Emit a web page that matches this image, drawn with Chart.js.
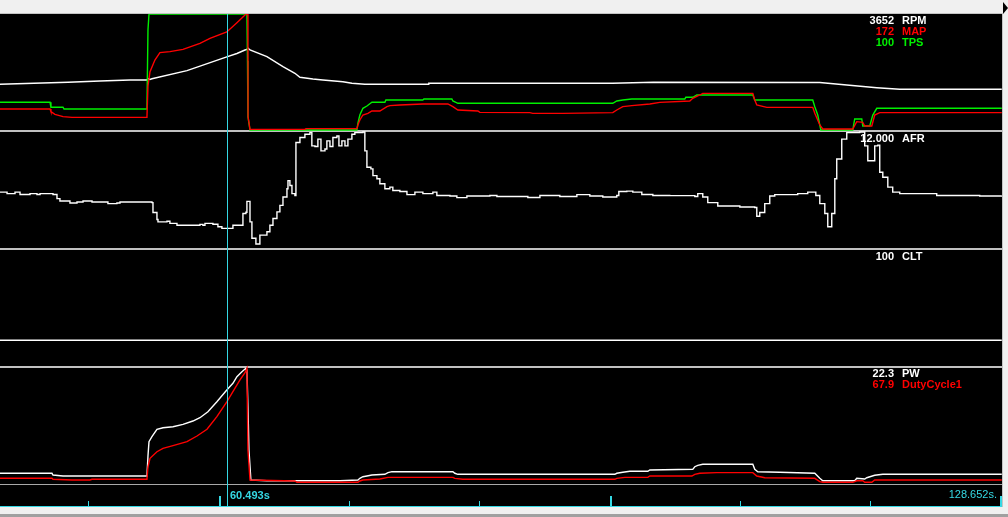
<!DOCTYPE html>
<html>
<head>
<meta charset="utf-8">
<title>Datalog view</title>
<script src="https://cdn.jsdelivr.net/npm/chart.js@4.4.1/dist/chart.umd.min.js"></script>
<style>
	html, body { margin: 0; padding: 0; background: #f0f0f0; overflow: hidden; }
	canvas { display: block; }
</style>
</head>
<body>
<canvas id="log-chart" width="1008" height="517"></canvas>
<script>
// time window (seconds) and cursor
const viewStart = 40.55;
const viewEnd = 128.65;
const cursorTime = 60.493;
const cursorLabel = '60.493s';
const endLabel = '128.652s.';
const timeTicks = [ 48.31, 71.26, 82.69, 105.64, 117.07 ];
const majorTimeTicks = [ 59.89, 94.24, 128.6 ];

// channel readout at the cursor
const channelNames = [ 'RPM', 'MAP', 'TPS', 'AFR', 'CLT', 'PW', 'DutyCycle1' ];
const cursorReadout = [ '3652', '172', '100', '12.000', '100', '22.3', '67.9' ];

// channel ranges used for the graph panels
const rpmRange = [ 0, 5800 ];
const mapRange = [ 25, 199 ];
const tpsRange = [ 0, 100 ];
const afrRange = [ 11, 16.85 ];
const cltRange = [ 80, 170 ];
const pwRange = [ 0, 27.5 ];
const dutyRange = [ 0, 96 ];

// logged samples: [ time s, value ]
const rpm = [
	[40.55,2290],[46.53,2385],[49.34,2450],[51.98,2500],[53.47,2500],[53.56,2570],[53.74,2530],
	[53.91,2560],[56.99,2965],[60.49,3652],[61.38,3825],[62.09,4000],[62.26,4035],[62.35,4100],
	[62.53,4000],[64.02,3665],[65.43,3165],[66.48,2835],[66.92,2635],[68.06,2550],[68.94,2500],
	[70.70,2415],[71.49,2335],[72.63,2285],[78.20,2285],[78.25,2335],[94.40,2340],[98.00,2385],
	[112.63,2375],[115.00,2250],[117.64,2115],[119.66,2035],[128.63,2035]
];
const map = [
	[40.55,56.5],[44.95,56.5],[45.03,52.5],[45.38,48.5],[46.09,45],[46.88,44],[53.47,44],
	[53.56,91],[53.74,112.5],[54.17,130],[54.61,141],[55.49,142.5],[56.64,146],[58.13,155],
	[59.01,162.5],[60.49,172],[61.38,186],[62.09,197.5],[62.26,199],[62.35,199],[62.36,45],
	[62.53,26],[67.36,26],[67.45,27],[71.93,27],[72.02,32.5],[72.19,40],[72.46,47.5],[72.90,50],
	[73.25,53.5],[73.95,53.5],[74.57,60],[74.83,61.5],[75.71,62.5],[77.73,64],[79.93,64],
	[80.37,60],[80.81,55],[82.57,53.5],[82.74,51.5],[87.14,51],[87.40,50],[90.04,50],[94.43,51],
	[94.78,55],[95.31,60],[96.10,61.5],[97.69,64],[98.56,66.5],[101.20,68.5],[101.46,72.5],
	[102.08,77.5],[102.34,80],[106.74,80],[106.91,70],[107.09,62.5],[107.97,59],[112.01,59],
	[112.19,50],[112.63,32.5],[112.89,26.5],[115.53,26.5],[115.88,37.5],[116.41,36.5],[116.58,31],
	[117.20,31],[117.46,47.5],[117.90,51],[128.63,51]
];
const tps = [
	[40.55,23.9],[44.95,23.9],[45.03,19.6],[46.09,19.6],[46.18,18.1],[53.47,18.1],[53.56,86.2],
	[53.65,100],[62.26,100],[62.31,59.5],[62.35,11.5],[62.53,0],[71.93,0],[72.02,6],[72.19,12.9],
	[72.46,18.7],[72.81,20.7],[73.25,23.9],[74.39,23.9],[74.48,25.9],[77.73,25.9],[77.82,26.7],
	[80.28,26.7],[80.37,25],[80.81,23],[94.43,23],[94.78,25],[95.31,25.9],[96.10,26.7],
	[100.76,26.7],[100.85,28.2],[101.46,28.2],[101.82,30.2],[106.74,30.2],[106.91,25.9],
	[112.01,25.9],[112.19,20.1],[112.45,12.9],[112.72,0],[115.53,0],[115.70,9.5],[116.32,9.5],
	[116.41,3.4],[117.02,3.4],[117.29,12.9],[117.64,18.7],[128.63,18.7]
];
const afr = [
	[40.55,13.82],[41.17,13.74],[41.87,13.82],[42.31,13.70],[43.19,13.74],[43.80,13.70],[44.07,13.74],
	[45.21,13.70],[45.56,13.49],[45.82,13.37],[46.70,13.27],[47.32,13.32],[47.85,13.37],[48.64,13.32],
	[49.34,13.32],[50.04,13.24],[50.83,13.27],[51.10,13.32],[53.91,13.29],[54.00,12.79],[54.35,12.44],
	[54.44,12.32],[55.23,12.35],[55.49,12.24],[56.11,12.15],[58.13,12.19],[58.39,12.15],[58.57,12.24],
	[59.27,12.20],[59.71,12.07],[60.06,11.99],[60.77,11.99],[61.03,12.15],[61.91,12.74],[62.17,12.80],
	[62.26,13.35],[62.44,13.35],[62.53,12.32],[62.70,11.49],[63.05,11.20],[63.23,11.20],[63.40,11.65],
	[64.02,11.82],[64.28,12.15],[64.55,12.49],[64.90,12.82],[65.16,13.15],[65.43,13.57],[65.78,13.99],
	[65.87,14.40],[66.04,14.15],[66.22,13.74],[66.48,13.65],[66.57,16.32],[66.92,16.57],[67.36,16.74],
	[67.80,16.82],[67.97,16.15],[68.24,16.12],[68.50,16.49],[68.77,15.90],[69.12,15.99],[69.29,16.40],
	[69.56,16.12],[69.82,16.57],[70.17,16.65],[70.35,16.15],[70.61,16.40],[70.88,16.15],[71.14,16.49],
	[71.49,16.74],[71.75,16.82],[72.46,16.85],[72.63,15.90],[72.81,15.07],[73.16,14.99],[73.34,14.65],
	[73.69,14.49],[73.95,14.24],[74.39,13.99],[74.83,14.07],[75.09,13.90],[75.71,13.85],[76.33,13.69],
	[77.03,13.82],[77.73,13.74],[78.61,13.82],[78.96,13.65],[80.11,13.62],[80.72,13.54],[81.60,13.62],
	[83.62,13.65],[84.24,13.60],[85.99,13.60],[86.96,13.55],[88.02,13.65],[89.77,13.60],[91.27,13.69],
	[92.41,13.62],[93.55,13.57],[94.78,13.65],[94.96,13.85],[95.66,13.87],[96.19,13.82],[96.98,13.70],
	[97.95,13.65],[99.44,13.64],[101.64,13.60],[101.90,13.74],[102.34,13.57],[102.78,13.29],
	[103.66,13.12],[105.60,13.07],[106.91,13.04],[107.09,12.60],[107.35,12.79],[107.79,13.24],
	[108.23,13.62],[108.67,13.69],[110.69,13.74],[111.57,13.82],[112.01,13.82],[112.28,13.65],
	[112.63,13.24],[113.07,12.74],[113.33,12.07],[113.59,12.07],[113.68,12.74],[113.95,14.49],
	[114.12,15.49],[114.56,16.49],[115.00,16.82],[116.14,16.85],[116.58,16.15],[116.85,15.40],
	[117.20,15.40],[117.46,16.15],[117.73,16.19],[117.90,14.82],[118.17,14.57],[118.61,14.07],
	[119.04,13.82],[119.66,13.74],[121.42,13.74],[122.91,13.65],[126.69,13.62],[128.63,13.64]
];
const clt = [ [40.55,100],[128.63,100] ];
const pw = [
	[40.55,2.54],[45.12,2.54],[45.21,2.13],[46.09,1.90],[53.47,1.90],[53.56,6.64],[53.65,10.02],
	[53.91,11.21],[54.35,12.96],[54.88,13.34],[55.76,13.58],[56.64,14.15],[57.51,14.93],[58.13,15.71],
	[58.83,17.14],[59.62,19.51],[60.49,22.3],[61.03,23.87],[61.38,25.43],[61.82,26.62],[62.17,27.42],
	[62.26,27.0],[62.35,18.32],[62.44,8.06],[62.61,0.95],[64.02,0.78],[70.44,0.78],[72.02,0.95],
	[72.19,1.35],[72.46,1.73],[72.81,1.90],[73.25,2.13],[74.39,2.30],[74.66,2.68],[75.01,2.92],
	[80.37,2.92],[80.54,2.54],[80.81,2.30],[94.61,2.30],[94.78,2.54],[95.31,2.77],[95.93,3.01],
	[97.51,3.01],[97.69,3.32],[101.46,3.48],[101.64,4.10],[101.90,4.43],[102.34,4.67],[106.74,4.67],
	[106.91,3.48],[107.18,2.92],[109.11,2.77],[112.19,2.54],[112.63,1.35],[112.89,0.78],[115.70,0.78],
	[115.88,1.35],[116.58,1.19],[116.76,1.49],[117.46,2.06],[118.17,2.30],[128.63,2.30]
];
const dutyCycle = [
	[40.55,4.7],[45.12,4.7],[45.21,3.9],[46.88,3.3],[48.46,3.3],[48.64,3.9],[53.47,3.9],[53.56,14.3],
	[53.74,21.3],[54.35,26.7],[54.88,29.5],[55.76,31.7],[56.99,35.0],[57.87,39.7],[58.75,45.3],
	[59.62,55.7],[60.49,67.9],[61.03,76.4],[61.65,86.1],[62.09,92.1],[62.26,95.8],[62.35,28.1],
	[62.53,3.3],[66.48,2.5],[66.66,1.4],[72.02,1.4],[72.19,2.5],[72.46,3.3],[73.95,4.1],[74.66,5.5],
	[80.37,5.5],[80.54,4.7],[81.25,3.9],[94.61,3.9],[94.78,4.7],[95.49,5.5],[97.51,5.5],[97.69,6.6],
	[101.38,6.6],[101.64,8.0],[102.08,8.9],[103.57,9.4],[106.74,9.4],[107.09,6.6],[107.79,5.2],
	[112.19,4.7],[112.63,1.9],[112.89,1.4],[115.53,1.4],[115.88,2.7],[116.41,2.7],[116.58,1.4],
	[117.20,1.4],[117.46,3.3],[128.63,3.3]
];

( function() { 'use strict';

	const AREA_TOP = 14;
	const AREA_BOTTOM = 484;
	const CYAN = '#35d8e4';
	const GREEN = '#00f000';
	const RED = '#ff0000';
	const WHITE = '#ffffff';

	let LogViewer = {

		/**
		 * Build the chart
		 */
		init: function() {
			const ctx = document.getElementById( 'log-chart' );

			new Chart( ctx, {
				type: 'line',
				data: { datasets: this.buildDatasets() },
				options: {
					responsive: false,
					devicePixelRatio: 1,
					animation: false,
					events: [],
					layout: { padding: { top: AREA_TOP, bottom: 517 - AREA_BOTTOM, left: 0, right: 6 } },
					scales: {
						x: { type: 'linear', display: false, min: viewStart, max: viewEnd },
						yRpm: this.bandScale( [ 14, 130 ], rpmRange ),
						yMap: this.bandScale( [ 14, 130 ], mapRange ),
						yTps: this.bandScale( [ 14, 130 ], tpsRange ),
						yAfr: this.bandScale( [ 132, 248 ], afrRange ),
						yClt: this.bandScale( [ 250, 366 ], cltRange ),
						yPw: this.bandScale( [ 368, 484 ], pwRange ),
						yDuty: this.bandScale( [ 368, 484 ], dutyRange )
					},
					plugins: {
						legend: { display: false },
						tooltip: { enabled: false }
					}
				},
				plugins: [ this.framePlugin() ]
			} );
		},

		/**
		 * A hidden y axis whose range lands inside one graph panel
		 */
		bandScale: function( band, range ) {
			const perPixel = ( range[1] - range[0] ) / ( band[1] - band[0] );
			return {
				type: 'linear',
				display: false,
				min: range[0] - ( AREA_BOTTOM - band[1] ) * perPixel,
				max: range[1] + ( band[0] - AREA_TOP ) * perPixel
			};
		},

		/**
		 * One trace per channel, first one is drawn on top
		 */
		buildDatasets: function() {
			const trace = function( label, data, axis, color, stepped ) {
				return {
					label: label,
					data: data,
					yAxisID: axis,
					borderColor: color,
					borderWidth: 1.4,
					pointRadius: 0,
					tension: 0,
					stepped: stepped || false,
					fill: false
				};
			};
			return [
				trace( 'MAP', map, 'yMap', RED ),
				trace( 'TPS', tps, 'yTps', GREEN ),
				trace( 'RPM', rpm, 'yRpm', WHITE ),
				trace( 'AFR', afr, 'yAfr', WHITE, 'before' ),
				trace( 'CLT', clt, 'yClt', WHITE ),
				trace( 'DutyCycle1', dutyCycle, 'yDuty', RED ),
				trace( 'PW', pw, 'yPw', WHITE )
			];
		},

		/**
		 * Background, panel dividers, cursor, time ruler and readouts
		 */
		framePlugin: function() {
			return {
				id: 'logFrame',
				beforeDraw: function( chart ) {
					const c = chart.ctx;
					const area = chart.chartArea;
					c.save();
					c.fillStyle = '#f0f0f0';
					c.fillRect( 0, 0, chart.width, chart.height );
					c.fillStyle = '#c4c4c4';
					c.fillRect( 0, 13, area.right + 1, 1 );
					c.fillRect( area.right, 13, 1, 494 );
					c.fillStyle = '#000000';
					c.fillRect( 0, 14, area.right, 492 );
					c.fillStyle = '#c0c0c0';
					c.fillRect( 0, 130, area.right, 2 );
					c.fillRect( 0, 248, area.right, 2 );
					c.fillRect( 0, 366, area.right, 2 );
					c.fillStyle = '#a8a8a8';
					c.fillRect( 0, 484, area.right, 1 );
					c.fillStyle = '#a0a0a0';
					c.fillRect( 0, 514, chart.width, 3 );
					// scroll arrow in the top right corner
					c.fillStyle = '#000000';
					c.beginPath();
					c.moveTo( area.right + 1, 2 );
					c.lineTo( chart.width, 8 );
					c.lineTo( area.right + 1, 14 );
					c.closePath();
					c.fill();
					c.restore();
				},
				afterDraw: function( chart ) {
					const c = chart.ctx;
					const area = chart.chartArea;
					const xScale = chart.scales.x;
					const cursorX = Math.round( xScale.getPixelForValue( cursorTime ) );
					c.save();

					// time ruler
					c.fillStyle = CYAN;
					c.fillRect( 0, 506, area.right, 1 );
					timeTicks.forEach( function( t ) {
						c.fillRect( Math.round( xScale.getPixelForValue( t ) ), 501, 1, 5 );
					} );
					majorTimeTicks.forEach( function( t ) {
						c.fillRect( Math.round( xScale.getPixelForValue( t ) ) - 1, 496, 2, 10 );
					} );

					// cursor
					c.fillRect( cursorX, 14, 1, 492 );
					c.font = 'bold 11px "Liberation Sans", Arial, sans-serif';
					c.textAlign = 'left';
					c.fillText( cursorLabel, cursorX + 3, 499 );
					c.font = '11px "Liberation Sans", Arial, sans-serif';
					c.textAlign = 'right';
					c.fillText( endLabel, 997, 498 );

					// channel readouts
					const colors = [ WHITE, RED, GREEN, WHITE, WHITE, WHITE, RED ];
					const rows = [ 24, 35, 46, 142, 260, 377, 388 ];
					c.font = 'bold 11px "Liberation Sans", Arial, sans-serif';
					channelNames.forEach( function( name, i ) {
						c.fillStyle = colors[ i ];
						c.textAlign = 'right';
						c.fillText( cursorReadout[ i ], 894, rows[ i ] );
						c.textAlign = 'left';
						c.fillText( name, 902, rows[ i ] );
					} );
					c.restore();
				}
			};
		}
	};

	LogViewer.init();
})();
</script>
</body>
</html>
